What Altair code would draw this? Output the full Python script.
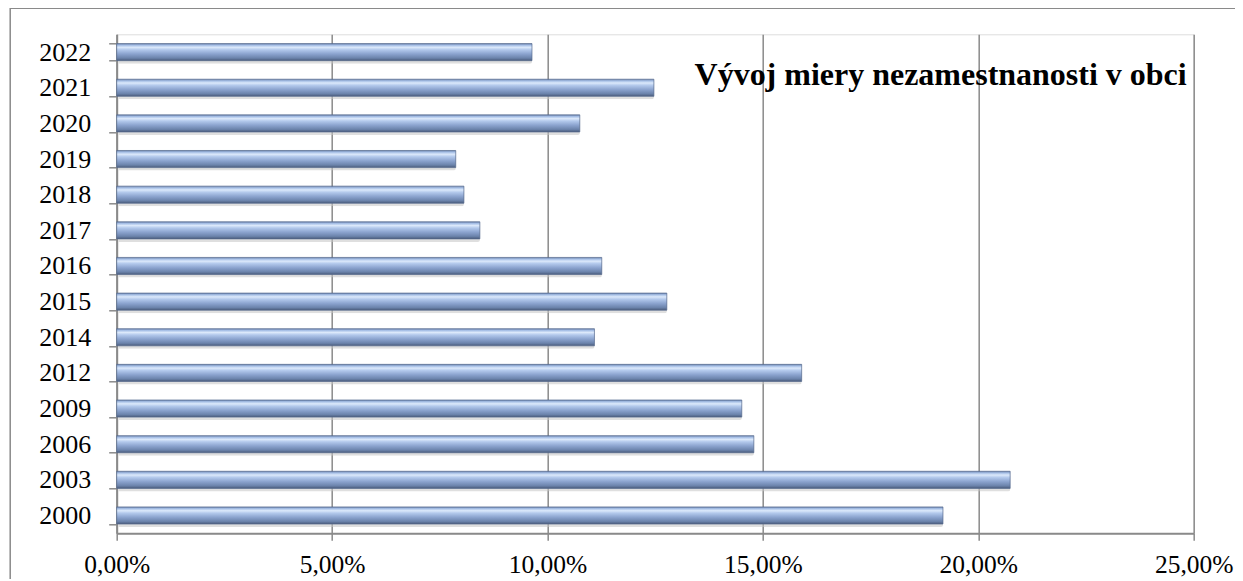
import altair as alt
import pandas as pd

years = ["2022", "2021", "2020", "2019", "2018", "2017", "2016", "2015",
         "2014", "2012", "2009", "2006", "2003", "2000"]
rates = [0.0964, 0.1247, 0.1075, 0.0787, 0.0806, 0.0843, 0.1126, 0.1277,
         0.1109, 0.1590, 0.1451, 0.1479, 0.2074, 0.1918]
title_text = "Vývoj miery nezamestnanosti v obci"
x_ticks = [0, 0.05, 0.10, 0.15, 0.20, 0.25]

df = pd.DataFrame({"rok": years, "miera": rates})

FONT = "Liberation Serif"
W, H = 1077, 499

x_enc = alt.X(
    "miera:Q",
    scale=alt.Scale(domain=[0, 0.25], nice=False),
    axis=alt.Axis(
        values=x_ticks,
        labelExpr="format(round(datum.value * 100), 'd') + ',00%'",
        title=None,
        grid=True,
        gridColor="#8a8a8a",
        gridWidth=1.5,
        domainColor="#8a8a8a",
        domainWidth=2,
        tickColor="#8a8a8a",
        tickWidth=1.5,
        tickSize=7,
        labelPadding=12,
        labelFont=FONT,
        labelFontSize=25.5,
        labelColor="#000000",
        labelFlush=False,
    ),
)
y_enc = alt.Y(
    "rok:N",
    sort=years,
    scale=alt.Scale(paddingInner=0.52, paddingOuter=0.26),
    axis=alt.Axis(
        title=None,
        domainColor="#8a8a8a",
        domainWidth=2,
        tickColor="#8a8a8a",
        tickWidth=1.5,
        tickSize=8,
        tickBand="extent",
        labelPadding=18,
        labelFont=FONT,
        labelFontSize=26,
        labelColor="#000000",
    ),
)

base = alt.Chart(df)

shadow = base.mark_bar(color="#c4c4c4", opacity=0.55, yOffset=3, xOffset=2,
                       cornerRadius=2).encode(x=x_enc, y=y_enc)

grad = alt.Gradient(
    gradient="linear",
    x1=0, x2=0, y1=0, y2=1,
    stops=[
        alt.GradientStop(offset=0.0, color="#6a82ac"),
        alt.GradientStop(offset=0.1, color="#a6bfe6"),
        alt.GradientStop(offset=0.22, color="#dce9fb"),
        alt.GradientStop(offset=0.36, color="#b3c9ec"),
        alt.GradientStop(offset=0.6, color="#8ca4cf"),
        alt.GradientStop(offset=0.85, color="#6b83ab"),
        alt.GradientStop(offset=1.0, color="#4a5b7a"),
    ],
)
bars = base.mark_bar(color=grad, stroke="#566a8e", strokeWidth=0.7).encode(
    x=x_enc, y=y_enc
)

title = alt.Chart(pd.DataFrame({"t": [title_text]})).mark_text(
    font=FONT, fontSize=32, fontWeight="bold", align="right",
    baseline="alphabetic", color="#000000",
).encode(text="t:N", x=alt.value(1070), y=alt.value(51))

frame = alt.Chart(pd.DataFrame({"a": [0]})).mark_rect(
    fill=None, stroke="#8a8a8a", strokeWidth=1.5
).encode(
    x=alt.value(-106.5), x2=alt.value(1400),
    y=alt.value(-26), y2=alt.value(800),
)

chart = alt.layer(frame, shadow, bars, title).properties(
    width=W, height=H,
    autosize=alt.AutoSizeParams(type="none"),
    padding={"left": 108.7, "top": 26.3, "right": 41, "bottom": 46},
).configure_view(stroke=None).configure(background="#ffffff")

chart.save("out.html", embed_options={"renderer": "svg", "actions": False})
